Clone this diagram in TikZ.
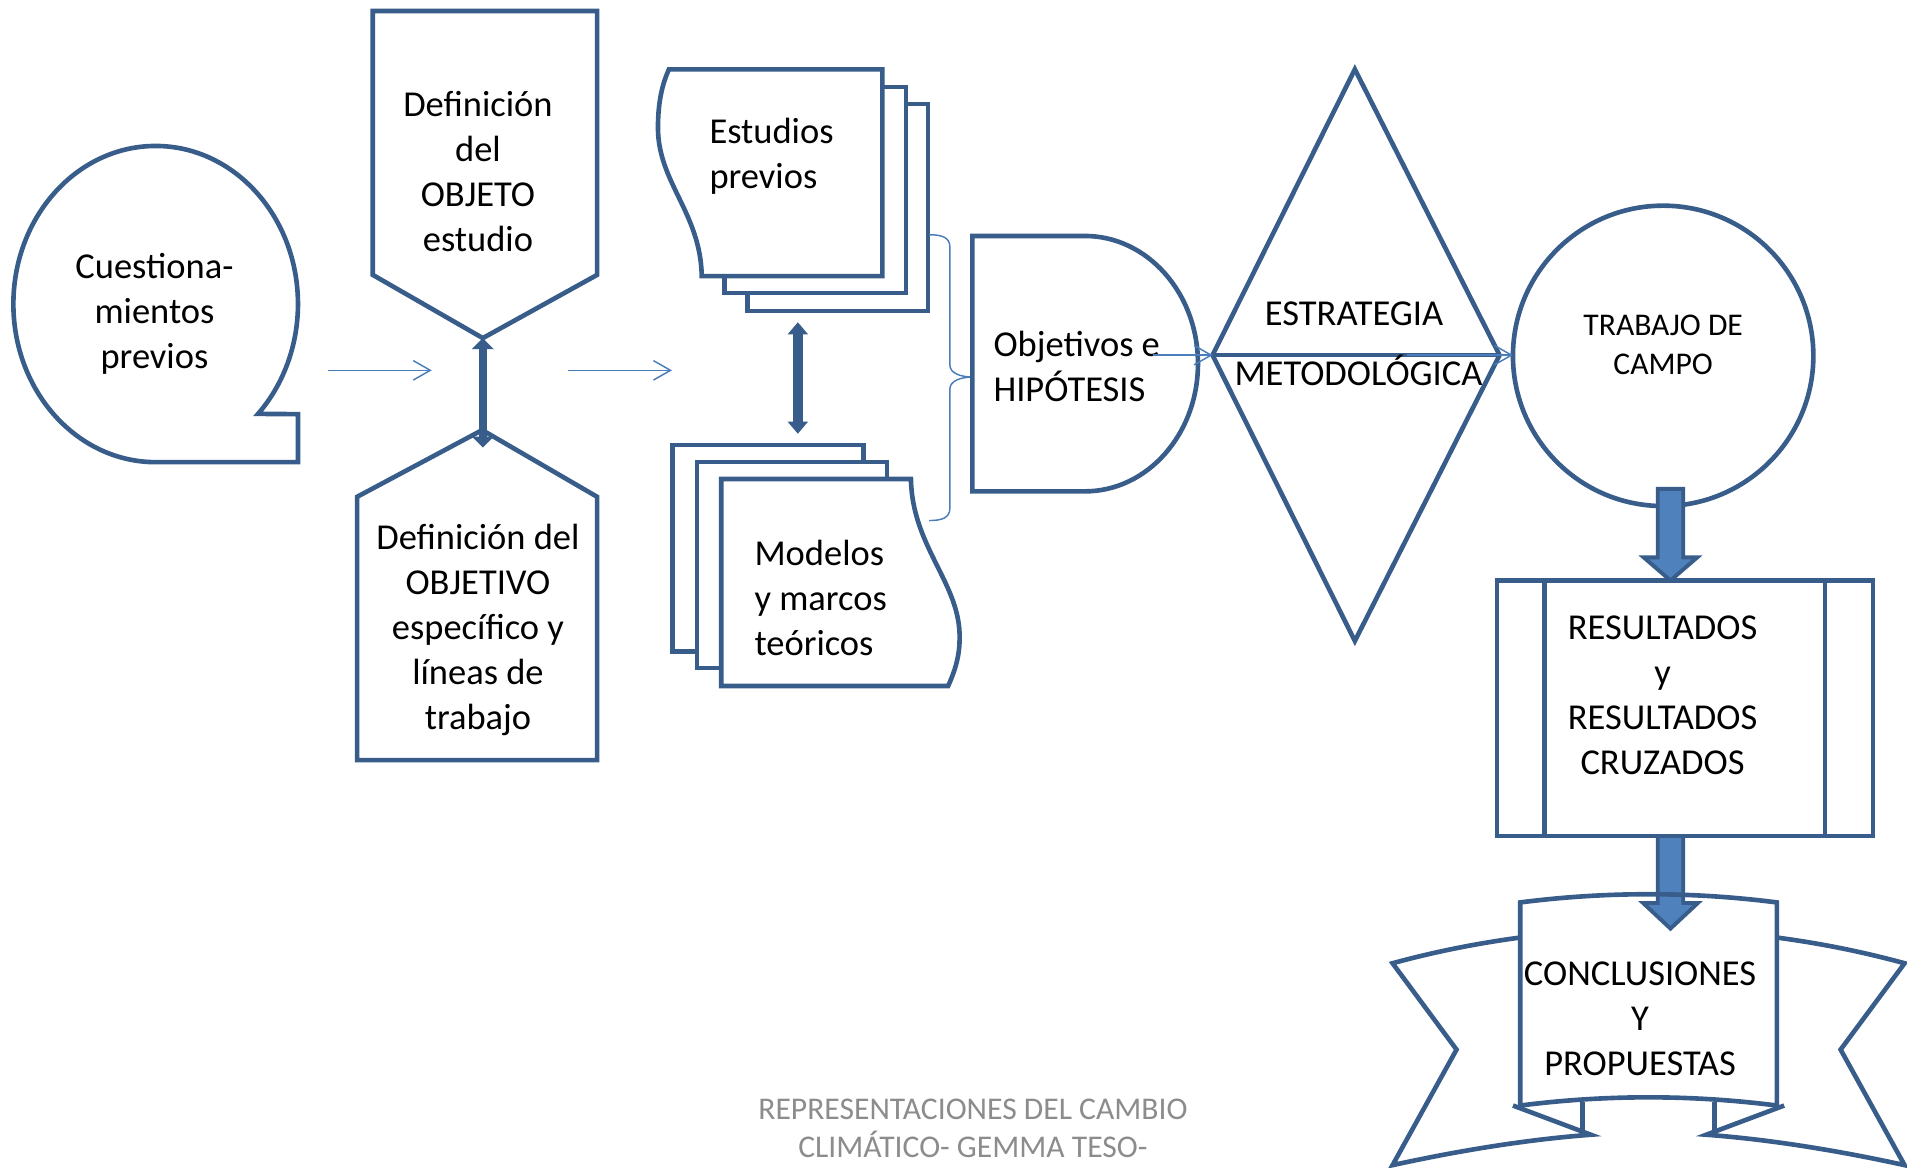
\documentclass[tikz,border=0pt]{standalone}
\usepackage{fontspec}
\setmainfont{Carlito}
\usetikzlibrary{arrows.meta,calc}
\definecolor{dk}{HTML}{385D8A}
\definecolor{acc}{HTML}{4F81BD}
\definecolor{thinc}{HTML}{4A7EBB}
\definecolor{foot}{HTML}{8C8C8C}
\begin{document}
\begin{tikzpicture}[x=0.5pt,y=-0.5pt,
  shp/.style={draw=dk, line width=1.9pt, fill=white},
  shpline/.style={draw=dk, line width=1.9pt},
  txt/.style={font=\fontsize{15}{18.5}\selectfont, align=center, inner sep=0pt},
  txtl/.style={font=\fontsize{15}{18.5}\selectfont, align=left, inner sep=0pt, anchor=west},
  txts/.style={font=\fontsize{13}{15.7}\selectfont, align=center, inner sep=0pt},
  thinarr/.style={draw=thinc, line width=0.6pt, -{Straight Barb[length=7pt,width=8pt]}},
  thinln/.style={draw=thinc, line width=0.6pt},
  dblA/.style={draw=dk, line width=3.4pt, {Triangle[width=9pt,length=4.5pt,line width=0pt]}-{Triangle[width=9pt,length=4.5pt,line width=0pt]}},
  dblB/.style={draw=dk, line width=4pt, {Triangle[width=8.5pt,length=5pt,line width=0pt]}-{Triangle[width=8.5pt,length=5pt,line width=0pt]}},
  blk/.style={fill=acc, draw=dk, line width=1.6pt}
]
\useasboundingbox (0,0) rectangle (1568,960);

% Cuestionamientos previos (callout)
\draw[shp] (128,380) arc[start angle=90,end angle=404,x radius=117,y radius=130] -- (245,340.5) -- (245,380) -- cycle;
\node[txt] (cq) at (127,258) {Cuestiona-\\mientos\\previos};

% Definicion del OBJETO estudio
\draw[shp] (306.5,9) -- (491,9) -- (491,226) -- (397,278) -- (306.5,226) -- cycle;
\node[txt] (dobj) at (393,141) {Definición\\del\\OBJETO\\estudio};

% Definicion del OBJETIVO
\draw[shp] (396.5,353.6) -- (491,408.5) -- (491,625) -- (293.6,625) -- (293.6,408.5) -- cycle;
\node[txt] (dobv) at (393,518) {Definición del\\OBJETIVO\\específico y\\líneas de\\trabajo};

% double arrow between the two definitions
\coordinate (dA) at (397,278);
\coordinate (dB) at (397,368);
\draw[dblA] (dA) -- (dB);

% thin arrows
\coordinate (t1s) at (270,304.5);
\coordinate (t1e) at (355,304.5);
\coordinate (t2s) at (467,304.5);
\coordinate (t2e) at (552.5,304.5);
\draw[thinarr] (t1s) -- (t1e);
\draw[thinarr] (t2s) -- (t2e);

% Estudios previos (multidocument)
\draw[shp] (614.5,85.6) rectangle (763,255.8);
\draw[shp] (595.5,71.4) rectangle (745,240.8);
\draw[shp] (550,57) -- (725.5,57) -- (725.5,227) -- (577,227)
  .. controls (576,175) and (541,150) .. (541,105)
  .. controls (541,80) and (546,66) .. (550,57) -- cycle;
\node[txtl] (est) at (583,128.5) {Estudios\\previos};

% Modelos y marcos teoricos (multidocument)
\draw[shp] (553,366) rectangle (710,535.8);
\draw[shp] (573,380) rectangle (729.3,549.3);
\draw[shp] (593,393.8) -- (749,393.8)
  .. controls (750,450) and (790,480) .. (789,525)
  .. controls (789,540) and (785,552) .. (779.6,564) -- (593,564) -- cycle;
\node[txtl] (mod) at (620,492) {Modelos\\y marcos\\teóricos};

% double arrow between documents
\coordinate (eA) at (656,265);
\coordinate (eB) at (656,356.6);
\draw[dblB] (eA) -- (eB);

% brace
\coordinate (brT) at (764,193);
\coordinate (brB) at (764,428);
\coordinate (brM) at (800,310);
\draw[thinln] (brT) .. controls (774,193) and (781,195) .. (781,203) -- (781,300)
  .. controls (781,307) and (790,310) .. (brM)
  .. controls (790,310) and (781,313) .. (781,320) -- (781,418)
  .. controls (781,426) and (774,428) .. (brB);

% Objetivos e HIPOTESIS (delay)
\draw[shp] (799.5,194) -- (892,194) arc[start angle=-90,end angle=90,x radius=93,y radius=105] -- (799.5,404) -- cycle;
\node[txtl] (obj) at (816.5,301) {Objetivos e\\HIPÓTESIS};

% Estrategia metodologica (sort)
\coordinate (dL) at (997,292);
\coordinate (dR) at (1233,292);
\draw[shp] (1114,57) -- (dR) -- (1114,527) -- (dL) -- cycle;
\draw[shpline] (dL) -- (dR);
\node[txt, anchor=base] (es1) at (1113.4,268) {ESTRATEGIA};
\node[txt, anchor=base] (es2) at (1117,316.7) {METODOLÓGICA};

\coordinate (t3s) at (948,292);
\draw[thinarr] (t3s) -- (dL);

% Trabajo de campo
\draw[shp] (1367.5,292.6) circle[radius=123.5];
\node[txts] (tc) at (1367.5,283.5) {TRABAJO DE\\CAMPO};
\coordinate (t4s) at (1157,292);
\coordinate (cL) at (1244,292);
\draw[thinarr] (t4s) -- (cL);

% Resultados (predefined process)
\draw[shp] (1231,477.3) rectangle (1540,687.4);
\draw[shpline] (1269.8,477.3) -- (1269.8,687.4) (1500.7,477.3) -- (1500.7,687.4);
\node[txt] (res) at (1367,572) {RESULTADOS\\y\\RESULTADOS\\CRUZADOS};

% block arrow 1
\coordinate (ba1) at (1373.5,402);
\coordinate (bb1) at (1373.5,477.3);
\draw[blk] ($(ba1)+(-10.5,0)$) -- ($(ba1)+(10.5,0)$) -- ($(bb1)+(10.5,-19)$) -- ($(bb1)+(22,-19)$)
  -- (bb1) -- ($(bb1)+(-22,-19)$) -- ($(bb1)+(-10.5,-19)$) -- cycle;

% block arrow 2
\coordinate (ba2) at (1373.5,687.4);
\coordinate (bb2) at (1373.5,763.5);
\draw[blk] ($(ba2)+(-10.5,0)$) -- ($(ba2)+(10.5,0)$) -- ($(bb2)+(10.5,-21)$) -- ($(bb2)+(22.5,-21)$)
  -- (bb2) -- ($(bb2)+(-22.5,-21)$) -- ($(bb2)+(-10.5,-21)$) -- cycle;

% Ribbon
\draw[shpline] (1249,771) .. controls (1212,776) and (1178,783) .. (1145,792) -- (1197.6,863)
  -- (1145,958) .. controls (1200,946) and (1255,937) .. (1308,933) -- (1244,909);
\draw[shpline] (1301.4,906) -- (1301.4,932);
\draw[shpline] (1462,771) .. controls (1499,776) and (1533,783) .. (1566,792) -- (1513.4,863)
  -- (1566,958) .. controls (1511,946) and (1456,937) .. (1403,933) -- (1467,909);
\draw[shpline] (1409.6,906) -- (1409.6,932);
\draw[shpline] (1250,742) .. controls (1320,733) and (1391,733) .. (1461,742) -- (1461,909)
  .. controls (1391,900) and (1320,900) .. (1250,909) -- cycle;
\node[txt] (con) at (1348.5,838) {CONCLUSIONES\\Y\\PROPUESTAS};

% footer
\node[font=\fontsize{13}{15.5}\selectfont, text=foot, align=center, inner sep=0pt] (ft) at (800,928) {REPRESENTACIONES DEL CAMBIO\\CLIMÁTICO- GEMMA TESO-};
\end{tikzpicture}
\end{document}
